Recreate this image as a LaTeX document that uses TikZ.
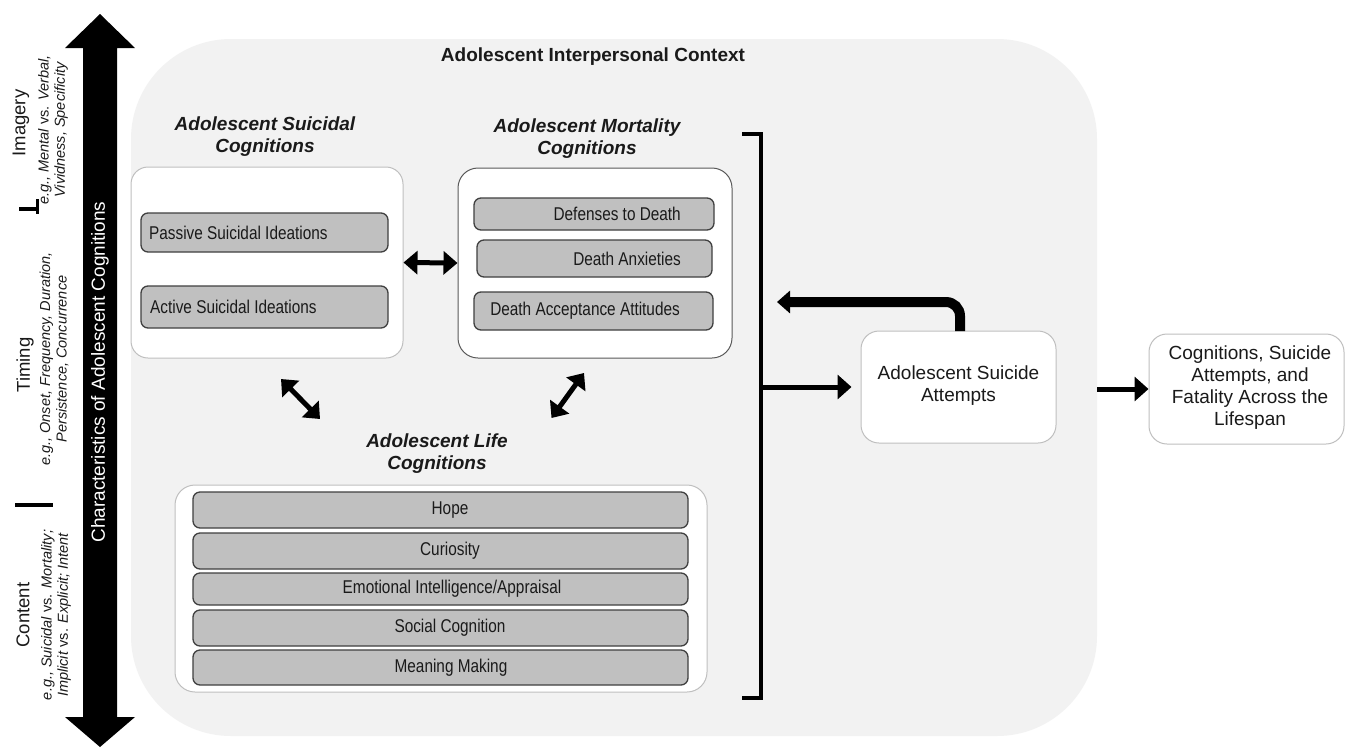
\documentclass[tikz,border=0pt]{standalone}
\usepackage{fontspec}
\setmainfont{Liberation Sans}
\newfontfamily\narrowfont[FakeStretch=0.83]{Liberation Sans}
\usetikzlibrary{arrows.meta}
\definecolor{ctxgray}{HTML}{F2F2F2}
\definecolor{boxgray}{HTML}{C0C0C0}
\definecolor{edgegray}{HTML}{404040}
\definecolor{lightedge}{HTML}{BFBFBF}
\definecolor{midedge}{HTML}{595959}
\definecolor{ink}{HTML}{1A1A1A}
\tikzset{
  ctxbox/.style={rectangle, rounded corners=100pt, fill=ctxgray, draw=none, inner sep=0pt},
  wbox/.style={rectangle, rounded corners=17pt, fill=white, draw=lightedge, line width=1pt, inner sep=0pt},
  gbox/.style={rectangle, rounded corners=7pt, fill=boxgray, draw=edgegray, line width=1.3pt, inner sep=0pt},
  gtxt/.style={text=ink, inner sep=0pt, font=\narrowfont\fontsize{18.5}{21}\selectfont},
  ttl/.style={text=ink, align=center, inner sep=0pt, font=\bfseries\itshape\fontsize{19}{22}\selectfont},
  plain/.style={text=ink, align=center, inner sep=0pt, font=\fontsize{19}{22}\selectfont},
  rothead/.style={rotate=90, text=ink, inner sep=0pt, font=\fontsize{18.5}{20}\selectfont},
  rotsub/.style={rotate=90, text=ink, align=center, inner sep=0pt, font=\itshape\fontsize{14.5}{16.5}\selectfont},
  dblarrow/.style={line width=5pt, {Triangle[length=14pt,width=23pt]}-{Triangle[length=14pt,width=23pt]}},
  onearrow/.style={line width=5pt, -{Triangle[length=14pt,width=24pt]}},
}
\begin{document}
\begin{tikzpicture}[x=1pt,y=-1pt]
\useasboundingbox (0,0) rectangle (1345,748);
\fill[white] (0,0) rectangle (1345,748);

% context region
\node[ctxbox, minimum width=966pt, minimum height=697pt] (ctx) at (614,387.5) {};
\node[text=ink, inner sep=0pt, font=\bfseries\fontsize{19}{22}\selectfont] (ctxt) at (593,57) {Adolescent Interpersonal Context};

% left axis arrow
\fill[black] (100,14) -- (135,48) -- (117,48) -- (117,717) -- (135,717) -- (100,747)
  -- (65,717) -- (83,717) -- (83,48) -- (65,48) -- cycle;
\node[rotate=90, text=white, inner sep=0pt, font=\fontsize{19}{22}\selectfont] (chr) at (100,372) {Characteristics of Adolescent Cognitions};

% left labels
\node[rothead] (img) at (21,123) {Imagery};
\node[rotsub] (imgs) at (53,130) {e.g., Mental \textup{vs.} Verbal,\\Vividness, Specificity};
\node[rothead] (tim) at (25,365) {Timing};
\node[rotsub] (tims) at (54,359) {e.g., Onset, Frequency, Duration,\\Persistence, Concurrence};
\node[rothead] (con) at (23,615) {Content};
\node[rotsub] (cons) at (56,615) {e.g., Suicidal \textup{vs.} Mortality;\\Implicit \textup{vs.} Explicit; Intent};
\draw[line width=4pt] (19,209) -- (37,209);
\draw[line width=3pt] (37.5,199) -- (37.5,214);
\draw[line width=4pt] (15,505) -- (53,505);

% suicidal cognitions
\node[ttl] (suit) at (265,137) {Adolescent Suicidal\\Cognitions};
\node[wbox, minimum width=272pt, minimum height=191pt] (sui) at (267,262.5) {};
\node[gbox, minimum width=247pt, minimum height=39pt] (pas) at (264.5,232.5) {};
\node[gtxt, anchor=west] (past) at (149,232.5) {Passive Suicidal Ideations};
\node[gbox, minimum width=247pt, minimum height=42pt] (act) at (264.5,307) {};
\node[gtxt, anchor=west] (actt) at (150,307) {Active Suicidal Ideations};

% mortality cognitions
\node[ttl] (mort) at (587,139) {Adolescent Mortality\\Cognitions};
\node[wbox, draw=midedge, rounded corners=20pt, minimum width=274pt, minimum height=190pt] (mor) at (595,263) {};
\node[gbox, minimum width=240pt, minimum height=32pt] (def) at (594,214) {};
\node[gtxt, anchor=east] (deft) at (681,214) {Defenses to Death};
\node[gbox, minimum width=235pt, minimum height=37pt] (anx) at (594.5,258.5) {};
\node[gtxt, anchor=east] (anxt) at (681,258.5) {Death Anxieties};
\node[gbox, minimum width=239pt, minimum height=38pt] (acc) at (593.5,311) {};
\node[gtxt, anchor=east] (acct) at (680,311) {Death Acceptance Attitudes};

% life cognitions
\node[ttl] (lift) at (437,453.5) {Adolescent Life\\Cognitions};
\node[wbox, rounded corners=20pt, minimum width=532pt, minimum height=207pt] (life) at (441,588.5) {};
\node[gbox, minimum width=495pt, minimum height=36pt] (hope) at (440.5,510) {};
\node[gtxt] (hopet) at (450,510) {Hope};
\node[gbox, minimum width=495pt, minimum height=36pt] (cur) at (440.5,551) {};
\node[gtxt] (curt) at (450,551) {Curiosity};
\node[gbox, minimum width=495pt, minimum height=32pt] (emo) at (440.5,589) {};
\node[gtxt] (emot) at (452,589) {Emotional Intelligence/Appraisal};
\node[gbox, minimum width=495pt, minimum height=36pt] (soc) at (440.5,628) {};
\node[gtxt] (soct) at (450,628) {Social Cognition};
\node[gbox, minimum width=495pt, minimum height=35pt] (mea) at (440.5,667.5) {};
\node[gtxt] (meat) at (451,667.5) {Meaning Making};

% arrows among cognitions
\draw[dblarrow] (sui.east) -- (mor.west);
\coordinate (la1) at (281,379);
\coordinate (la2) at (320,419);
\draw[dblarrow] (la1) -- (la2);
\coordinate (ra1) at (584,373);
\coordinate (ra2) at (551.5,418);
\draw[dblarrow] (ra1) -- (ra2);

% bracket
\coordinate (bt) at (761,134);
\coordinate (bb) at (761,698);
\draw[line width=4pt, line join=miter] (742,134) -- (bt) -- (bb) -- (742,698);

% suicide attempts
\node[wbox, rounded corners=18pt, minimum width=195pt, minimum height=112pt] (asa) at (958.5,387) {};
\node[plain] (asat) at (958.5,386) {Adolescent Suicide\\Attempts};
\coordinate (bk) at (761,387);
\draw[onearrow, shorten >=9pt] (bk) -- (asa.west);
\coordinate (fb) at (777,302);
\draw[line width=10pt, -{Triangle[length=13pt,width=22pt]}, rounded corners=14pt] (960,331) -- (960,302) -- (fb);

% outcome
\node[wbox, rounded corners=18pt, minimum width=195pt, minimum height=110pt] (rb) at (1246.5,389) {};
\node[plain] (rbt) at (1250,388) {Cognitions, Suicide\\Attempts, and\\Fatality Across the\\Lifespan};
\draw[onearrow] (ctx.east |- rb.west) -- (rb.west);
\end{tikzpicture}
\end{document}
